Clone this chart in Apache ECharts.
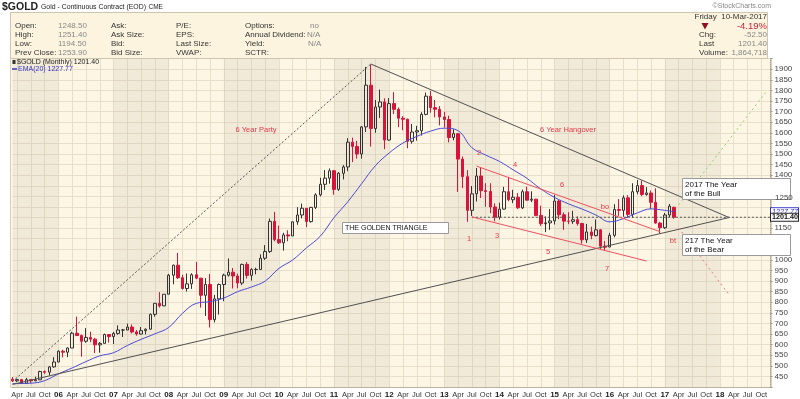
<!DOCTYPE html>
<html>
<head>
<meta charset="utf-8">
<script src="https://cdn.jsdelivr.net/npm/echarts@6/dist/echarts.min.js"></script>
<style>
html, body { margin: 0; padding: 0; background: #fff; }
#main { width: 800px; height: 399px; }
</style>
</head>
<body>
<div id="main"></div>
<script>
// monthly categories Mar 2005 .. Dec 2018
const months = [];
for (let y = 2005; y <= 2018; y++) {
  for (let m = 1; m <= 12; m++) {
    if (y === 2005 && m < 3) continue;
    months.push(y + '-' + (m < 10 ? '0' + m : m));
  }
}
const monthNames = { '04': 'Apr', '07': 'Jul', '10': 'Oct' };

// [open, high, low, close]
const candles = [
  // 2005 (Mar-Dec)
  [437,447,424,429],[429,439,423,435],[435,436,414,417],[417,443,414,435],[435,437,418,429],[429,449,428,434],[434,477,434,473],[473,478,461,470],[470,499,456,495],[495,541,491,518],
  // 2006
  [518,573,517,569],[569,576,540,564],[564,587,541,584],[584,661,584,654],[654,732,640,643],[643,648,543,616],[616,678,609,634],[634,661,611,626],[626,632,560,599],[599,612,562,606],[606,652,605,648],[648,649,610,638],
  // 2007
  [638,660,603,653],[653,691,647,669],[669,674,636,669],[669,699,669,683],[683,695,653,660],[660,669,642,650],[650,683,648,666],[666,676,648,673],[673,747,671,743],[743,796,732,795],[795,848,775,783],[783,838,782,838],
  // 2008
  [838,934,838,928],[928,978,885,975],[975,1033,910,916],[916,930,860,865],[865,936,851,887],[887,937,863,930],[930,991,909,914],[914,915,775,833],[833,914,735,884],[884,933,681,718],[718,835,705,816],[816,889,742,884],
  // 2009
  [884,935,805,928],[928,1007,921,942],[942,962,865,924],[924,935,866,891],[891,982,881,979],[979,990,912,927],[927,961,902,955],[955,963,932,955],[955,1026,953,1008],[1008,1070,1000,1040],[1040,1195,1033,1182],[1182,1227,1088,1096],
  // 2010
  [1096,1162,1075,1081],[1081,1128,1044,1118],[1118,1140,1088,1113],[1113,1180,1113,1180],[1180,1249,1166,1212],[1212,1266,1196,1244],[1244,1244,1155,1181],[1181,1250,1176,1248],[1248,1315,1240,1307],[1307,1388,1300,1357],[1357,1424,1330,1386],[1386,1432,1360,1421],
  // 2011
  [1421,1425,1308,1333],[1333,1415,1326,1409],[1409,1448,1380,1439],[1439,1575,1419,1556],[1556,1577,1462,1536],[1536,1562,1478,1500],[1500,1632,1478,1628],[1628,1911,1604,1825],[1825,1923,1535,1620],[1620,1755,1600,1722],[1722,1804,1670,1746],[1746,1763,1523,1566],
  // 2012
  [1566,1764,1563,1738],[1738,1792,1689,1711],[1711,1720,1627,1669],[1669,1679,1612,1664],[1664,1667,1527,1560],[1560,1642,1549,1604],[1604,1633,1563,1610],[1610,1697,1587,1687],[1687,1790,1683,1773],[1773,1798,1695,1719],[1719,1755,1673,1711],[1711,1726,1635,1675],
  // 2013
  [1675,1699,1625,1663],[1663,1681,1555,1578],[1578,1617,1565,1596],[1596,1597,1321,1476],[1476,1488,1339,1393],[1393,1424,1180,1234],[1234,1349,1208,1312],[1312,1434,1276,1396],[1396,1434,1292,1327],[1327,1362,1251,1323],[1323,1362,1221,1250],[1250,1267,1182,1202],
  // 2014
  [1202,1270,1191,1240],[1240,1345,1238,1322],[1322,1392,1277,1284],[1284,1331,1268,1296],[1296,1315,1240,1246],[1246,1332,1240,1322],[1322,1346,1282,1282],[1282,1324,1273,1287],[1287,1288,1206,1210],[1210,1256,1161,1171],[1171,1205,1131,1175],[1175,1240,1142,1184],
  // 2015
  [1184,1307,1167,1278],[1278,1283,1192,1213],[1213,1224,1142,1183],[1183,1225,1169,1182],[1182,1232,1170,1190],[1190,1205,1162,1172],[1172,1175,1077,1095],[1095,1170,1080,1132],[1132,1157,1098,1115],[1115,1191,1111,1142],[1142,1146,1052,1065],[1065,1089,1046,1060],
  // 2016
  [1061,1128,1060,1116],[1116,1263,1107,1238],[1238,1287,1208,1234],[1234,1305,1204,1293],[1293,1306,1200,1215],[1215,1362,1200,1322],[1322,1377,1310,1351],[1351,1375,1301,1309],[1309,1344,1303,1316],[1316,1328,1241,1272],[1272,1338,1171,1174],[1174,1180,1124,1152],
  // 2017 (Jan-Mar)
  [1152,1222,1146,1212],[1212,1264,1201,1254],[1248.5,1251.4,1194.5,1201.4]
];

// EMA(20)
const emaPoints = [
  ['2005-03',416],['2005-07',418],['2005-10',430],['2006-01',462],['2006-04',490],['2006-07',520],['2006-10',547],
  ['2007-01',562],['2007-04',596],['2007-07',625],['2007-10',651],['2008-01',681],['2008-04',748],['2008-07',795],
  ['2008-10',803],['2009-01',820],['2009-04',850],['2009-07',872],['2009-10',900],['2010-01',960],['2010-04',1000],
  ['2010-07',1057],['2010-10',1112],['2011-01',1200],['2011-04',1275],['2011-07',1360],['2011-10',1445],['2012-01',1505],
  ['2012-04',1552],['2012-07',1583],['2012-10',1608],['2013-01',1622],['2013-04',1610],['2013-07',1530],['2013-10',1495],
  ['2014-01',1465],['2014-04',1425],['2014-07',1385],['2014-10',1335],['2015-01',1295],['2015-04',1265],['2015-07',1240],
  ['2015-10',1212],['2016-01',1180],['2016-04',1195],['2016-07',1222],['2016-10',1241],['2017-01',1234],['2017-03',1227.77]
];

// drawn trend lines
const partyLine = [['2005-03', 426], ['2011-09', 1925]];
const upperLine = [['2011-09', 1925], ['2018-03', 1200]];
const lowerLine = [['2005-03', 412], ['2018-03', 1200]];
const baseLine = [['2013-07', 1201.4], ['2018-12', 1201.4]];
const channelTop = [['2013-08', 1443], ['2016-12', 1133]];
const channelBottom = [['2013-07', 1203], ['2016-09', 995]];
const bullPath = [['2017-04', 1260], ['2018-11', 1792]];
const bearPath = [['2017-04', 1151], ['2018-03', 835]];

const shadedYears = [2005, 2007, 2009, 2011, 2013, 2015, 2017];
const hiddenTicks = [400, 1950, 1050, 1100, 1200, 1250, 1300, 1350];

const lastPrice = 1201.4;
const lastEma = 1227.77;

const FONT = 'Liberation Sans, Arial, sans-serif';

let emaData = months.map(() => null);
emaPoints.forEach(p => { emaData[months.indexOf(p[0])] = p[1]; });

function quarterTick(index, value) {
  let m = value.slice(5);
  return m === '01' || m === '04' || m === '07' || m === '10';
}

function trend(data, color, type) {
  return {
    type: 'line', data: data, symbol: 'none', silent: true, z: 5,
    lineStyle: { color: color, width: 1, type: type || 'solid' }
  };
}

let bands = shadedYears.map(y => [
  { xAxis: y === 2005 ? '2005-03' : y + '-01' },
  { xAxis: y === 2017 ? '2018-01' : (y + 1) + '-01' }
]);

let chart = echarts.init(document.getElementById('main'));
chart.setOption({
  animation: false,
  textStyle: { fontFamily: FONT },
  grid: { left: 12.5, right: 29.5, top: 58.7, bottom: 11.7 },
  xAxis: {
    type: 'category',
    data: months,
    boundaryGap: false,
    axisLine: { lineStyle: { color: '#b5ad9a', type: 'dotted' } },
    axisTick: { show: false },
    axisLabel: {
      interval: quarterTick,
      margin: 4,
      fontSize: 7.5,
      color: '#333',
      formatter: function (v) {
        let m = v.slice(5);
        if (m === '01') return '{y|' + v.slice(2, 4) + '}';
        return monthNames[m];
      },
      rich: { y: { fontWeight: 'bold', fontSize: 8, color: '#222' } }
    },
    splitLine: { show: true, interval: quarterTick, lineStyle: { color: '#e8dfcb', width: 1 } }
  },
  yAxis: {
    type: 'value',
    position: 'right',
    min: 400,
    max: 1950,
    interval: 50,
    axisLine: { show: true, lineStyle: { color: '#a9a395', type: 'dotted' } },
    axisTick: { show: true, length: 2, lineStyle: { color: '#999' } },
    axisLabel: {
      margin: 4, fontSize: 8, color: '#444',
      formatter: function (v) { return hiddenTicks.indexOf(v) >= 0 ? '' : String(v); }
    },
    splitLine: { show: true, lineStyle: { color: '#e8dfcb', width: 1 } }
  },
  series: [
    {
      type: 'line', data: [], z: 1, silent: true,
      markArea: { silent: true, itemStyle: { color: 'rgba(185,175,150,0.16)' }, data: bands }
    },
    {
      type: 'candlestick',
      data: candles.map(c => [c[0], c[3], c[2], c[1]]),
      barWidth: 3,
      z: 3,
      itemStyle: {
        color: 'rgba(0,0,0,0)', color0: '#d7153a',
        borderColor: '#333', borderColor0: '#d7153a', borderWidth: 1
      }
    },
    {
      type: 'line', data: emaData, connectNulls: true, smooth: 0.4, symbol: 'none', z: 4,
      lineStyle: { color: '#4a4ad4', width: 1 }
    },
    trend(partyLine, '#555', [2, 2]),
    trend(upperLine, '#505050'),
    trend(lowerLine, '#505050'),
    trend(baseLine, '#555', [2, 2]),
    trend(channelTop, '#f0505f'),
    trend(channelBottom, '#f0505f'),
    trend(bullPath, '#8fcf6a', [2, 3]),
    trend(bearPath, '#f07a7a', [2, 3])
  ]
});

function py(v) { return chart.convertToPixel({ yAxisIndex: 0 }, v); }

function txt(x, y, s, opt) {
  opt = opt || {};
  return {
    type: 'text', z: 100, x: x, y: y,
    style: {
      text: s, fill: opt.color || '#333', fontSize: opt.size || 8,
      fontWeight: opt.bold ? 'bold' : 'normal', fontFamily: FONT,
      align: opt.align || 'left', verticalAlign: 'middle'
    }
  };
}

function redNote(x, y, s) { return txt(x, y, s, { color: '#e8384a', size: 7.5, align: 'center' }); }

function box(x, y, w, h) {
  return {
    type: 'rect', z: 99, shape: { x: x, y: y, width: w, height: h },
    style: { fill: '#fff', stroke: '#9a9a9a', lineWidth: 1 }
  };
}

let rows = [26, 35, 44, 53];
let g = [
  // plot background
  {
    type: 'rect', z: -100, shape: { x: 10.5, y: 58.5, width: 761, height: 329 },
    style: { fill: '#fdf6e5', stroke: '#d9d0ba', lineWidth: 1 }
  },
  // header
  txt(2, 7, '$GOLD', { size: 10.5, bold: true, color: '#222' }),
  txt(41, 7.5, 'Gold - Continuous Contract (EOD)', { size: 6.9, color: '#222' }),
  txt(148.5, 7.5, 'CME', { size: 6.5, color: '#222' }),
  txt(771, 6.5, '\u00a9StockCharts.com', { size: 7, color: '#888', align: 'right' }),
  {
    type: 'rect', z: 90, shape: { x: 10.5, y: 12.5, width: 757, height: 46 },
    style: { fill: '#fcf4df', stroke: '#cfc5ad', lineWidth: 1 }
  },
  txt(15, rows[0], 'Open:'), txt(58, rows[0], '1248.50', { color: '#888' }),
  txt(15, rows[1], 'High:'), txt(58, rows[1], '1251.40', { color: '#888' }),
  txt(15, rows[2], 'Low:'), txt(58, rows[2], '1194.50', { color: '#888' }),
  txt(15, rows[3], 'Prev Close:'), txt(58, rows[3], '1253.90', { color: '#888' }),
  txt(111, rows[0], 'Ask:'), txt(111, rows[1], 'Ask Size:'),
  txt(111, rows[2], 'Bid:'), txt(111, rows[3], 'Bid Size:'),
  txt(176, rows[0], 'P/E:'), txt(176, rows[1], 'EPS:'),
  txt(176, rows[2], 'Last Size:'), txt(176, rows[3], 'VWAP:'),
  txt(245, rows[0], 'Options:'), txt(245, rows[1], 'Annual Dividend:'),
  txt(245, rows[2], 'Yield:'), txt(245, rows[3], 'SCTR:'),
  txt(310, rows[0], 'no', { color: '#888' }),
  txt(307, rows[1], 'N/A', { color: '#888' }),
  txt(308, rows[2], 'N/A', { color: '#888' }),
  txt(767, 16.5, 'Friday  10-Mar-2017', { align: 'right' }),
  {
    type: 'polygon', z: 100, shape: { points: [[701.5, 23], [708.5, 23], [705, 29.5]] },
    style: { fill: '#8b1020' }
  },
  txt(767, 26, '-4.19%', { size: 9.5, color: '#d0203a', align: 'right' }),
  txt(699, 35, 'Chg:'), txt(767, 35, '-52.50', { color: '#888', align: 'right' }),
  txt(699, 44, 'Last'), txt(767, 44, '1201.40', { color: '#888', align: 'right' }),
  txt(699, 53, 'Volume:'), txt(767, 53, '1,864,718', { color: '#888', align: 'right' }),
  // legend inside the plot
  {
    type: 'rect', z: 100, shape: { x: 12.5, y: 60, width: 3, height: 4 },
    style: { fill: '#333' }
  },
  txt(17, 62.5, '$GOLD (Monthly) 1201.40', { size: 7, color: '#222' }),
  {
    type: 'line', z: 100, shape: { x1: 12, y1: 69, x2: 17, y2: 69 },
    style: { stroke: '#3434c8', lineWidth: 1.5 }
  },
  txt(18, 68.8, 'EMA(20) 1227.77', { size: 7, color: '#3434c8' }),
  // annotations
  redNote(256, 130, '6 Year Party'),
  redNote(568, 130, '6 Year Hangover'),
  redNote(469, 239, '1'),
  redNote(479, 153, '2'),
  redNote(497, 236, '3'),
  redNote(515, 165, '4'),
  redNote(548, 252, '5'),
  redNote(562, 185, '6'),
  redNote(607, 269, '7'),
  redNote(605, 207, 'bo'),
  redNote(673, 241, 'bt'),
  box(342.5, 222.5, 106, 11),
  txt(345, 228.5, 'THE GOLDEN TRIANGLE', { size: 7, color: '#111' }),
  box(682.5, 178.5, 108, 21),
  txt(685, 184.5, '2017 The Year', { color: '#111' }),
  txt(685, 193.5, 'of the Bull', { color: '#111' }),
  box(682.5, 234.5, 108, 21),
  txt(685, 240.5, '217 The Year', { color: '#111' }),
  txt(685, 249.5, 'of the Bear', { color: '#111' }),
  // right axis tags
  txt(775, py(1250) - 9, '1250', { color: '#444' }),
  {
    type: 'text', z: 101, x: 771, y: py(lastEma),
    style: {
      text: lastEma.toFixed(2), fill: '#3434c8', fontSize: 7.2, fontStyle: 'italic', fontFamily: FONT,
      verticalAlign: 'middle', backgroundColor: '#fff', borderColor: '#3434c8', borderWidth: 1,
      padding: [0, 0, 0, 1]
    }
  },
  {
    type: 'text', z: 102, x: 771, y: py(lastPrice),
    style: {
      text: lastPrice.toFixed(2), fill: '#111', fontSize: 7.2, fontWeight: 'bold', fontFamily: FONT,
      verticalAlign: 'middle', backgroundColor: '#fff', borderColor: '#222', borderWidth: 1,
      padding: [0, 0, 0, 1]
    }
  }
];

chart.setOption({ graphic: g });
</script>
</body>
</html>
